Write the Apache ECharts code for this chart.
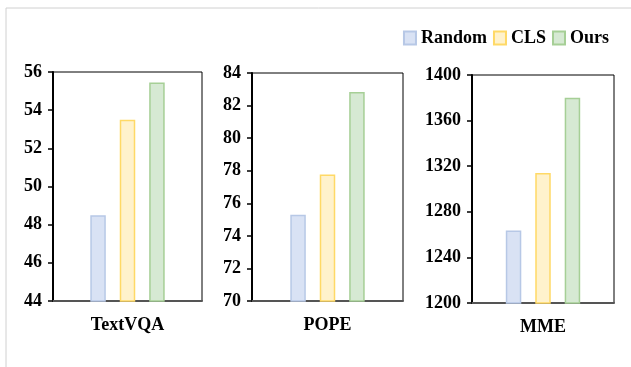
<!DOCTYPE html>
<html>
<head>
<meta charset="utf-8">
<script src="https://cdn.jsdelivr.net/npm/echarts@6/dist/echarts.min.js"></script>
<style>
html,body{margin:0;padding:0;background:#fff;}
#chart{width:631px;height:367px;}
</style>
</head>
<body>
<div id="chart"></div>
<script>
var categories = ['TextVQA', 'POPE', 'MME'];
var seriesNames = ['Random', 'CLS', 'Ours'];
var randomValues = [48.5, 75.3, 1263.5];
var clsValues = [53.5, 77.76, 1314];
var oursValues = [55.45, 82.83, 1380];
var yMins = [44, 70, 1200];
var yMaxs = [56, 84, 1400];
var ySteps = [2, 2, 40];

var fills = ['#d9e2f4', '#fff2cc', '#d6e9d3'];
var borders = ['#b7c8e6', '#ffd966', '#a6cf96'];
var grids = [
  {left: 53, top: 72, width: 149, height: 229},
  {left: 252, top: 73, width: 151, height: 228},
  {left: 472, top: 75, width: 142, height: 228}
];
var font = 'Liberation Serif';
var allValues = [randomValues, clsValues, oursValues];

var option = {
  animation: false,
  backgroundColor: '#fff',
  legend: {
    data: seriesNames,
    right: 17,
    top: 24,
    itemWidth: 12,
    itemHeight: 13,
    itemGap: 6,
    icon: 'rect',
    textStyle: {fontFamily: font, fontWeight: 'bold', fontSize: 18, color: '#000'}
  },
  graphic: [
    {type: 'line', shape: {x1: 6, y1: 8, x2: 631, y2: 8}, style: {stroke: '#d0d0d0', lineWidth: 1}},
    {type: 'line', shape: {x1: 6, y1: 8, x2: 6, y2: 367}, style: {stroke: '#d0d0d0', lineWidth: 1}}
  ],
  grid: grids.map(function (g) {
    return {left: g.left, top: g.top, width: g.width, height: g.height, show: true,
      borderColor: '#000', borderWidth: 1, backgroundColor: 'transparent'};
  }),
  xAxis: categories.map(function (c, i) {
    return {
      type: 'category', gridIndex: i, data: [c],
      axisLine: {lineStyle: {color: '#555', width: 2}},
      axisTick: {show: false},
      axisLabel: {margin: 15, fontFamily: font, fontWeight: 'bold', fontSize: 18, color: '#000'}
    };
  }),
  yAxis: categories.map(function (c, i) {
    return {
      type: 'value', gridIndex: i, min: yMins[i], max: yMaxs[i], interval: ySteps[i],
      splitLine: {show: false},
      axisLine: {show: true, lineStyle: {color: '#000', width: 2}},
      axisTick: {show: true, length: 5, lineStyle: {color: '#000', width: 1.5}},
      axisLabel: {margin: 11, fontFamily: font, fontWeight: 'bold', fontSize: 18, color: '#000',
        formatter: function (v) { return String(v); }}
    };
  }),
  series: []
};

categories.forEach(function (c, i) {
  seriesNames.forEach(function (name, k) {
    option.series.push({
      type: 'bar', name: name, xAxisIndex: i, yAxisIndex: i,
      data: [allValues[k][i]],
      barWidth: 15.5, barGap: '90%',
      itemStyle: {color: fills[k], borderColor: borders[k], borderWidth: 1.5}
    });
  });
});

var chart = echarts.init(document.getElementById('chart'), null, {renderer: 'canvas'});
chart.setOption(option);
</script>
</body>
</html>
